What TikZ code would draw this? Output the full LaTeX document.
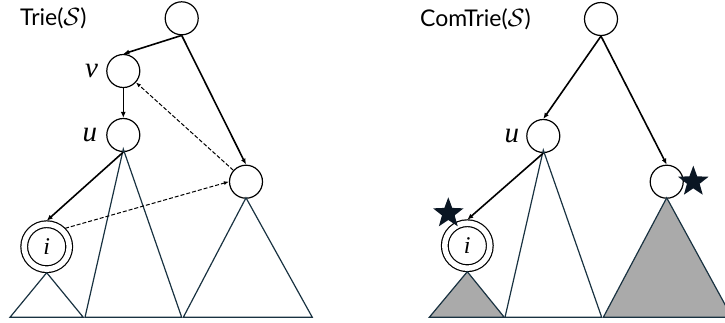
\documentclass[tikz,border=0pt]{standalone}
\usepackage{fontspec}
\setmainfont{Lato}
\newfontfamily\letterfont{Liberation Serif}
\definecolor{slate}{RGB}{25,50,65}
\definecolor{shade}{RGB}{170,170,170}
\definecolor{starc}{RGB}{10,22,35}
\usetikzlibrary{arrows.meta,positioning,shapes.geometric}
\tikzset{
  tnode/.style={draw,circle,line width=1.2pt,minimum size=33pt,inner sep=0pt},
  leaf/.style={tnode,double,double distance=5.5pt,minimum size=45pt,outer sep=3.5pt,
               font=\letterfont\itshape\fontsize{24}{24}\selectfont},
  edge/.style={-{Latex[length=6pt,width=5pt]},line width=1.6pt},
  link/.style={-{Latex[length=5pt,width=4pt]},line width=1pt,dash pattern=on 4pt off 2pt},
  sub/.style={draw=slate,line width=1.2pt},
  subfill/.style={sub,fill=shade},
  lbl/.style={font=\letterfont\itshape\fontsize{29}{29}\selectfont,inner sep=0pt},
  title/.style={font=\fontsize{23}{23}\selectfont,anchor=west,inner sep=0pt},
  starmark/.style={star,star points=5,star point ratio=2.4,fill=starc,inner sep=0pt,minimum size=32pt},
}
\begin{document}
\begin{tikzpicture}[x=1pt,y=-1pt]
  \useasboundingbox (0,0) rectangle (725,322);

  % left: Trie(S)
  \node[title] (t1) at (20,18) {Trie($\mathcal{S}$)};
  \node[tnode] (root) at (181.7,18.3) {};
  \node[tnode] (v) at (123.3,71) {};
  \node[tnode] (u) at (123.3,135) {};
  \node[tnode] (r) at (246,181.7) {};
  \node[leaf] (i) at (46.7,246.7) {i};
  \node[lbl,left=8pt of v] (vl) {v};
  \node[lbl,left=9pt of u] (ul) {u};

  \draw[sub] (i.south) -- (10,317.3) -- (83.3,317.3) -- cycle;
  \draw[sub] ([yshift=3pt]u.south) -- (85,317.3) -- (181.7,317.3) -- cycle;
  \draw[sub] ([yshift=1pt]r.south) -- (183.3,317.3) -- (312.3,317.3) -- cycle;

  \draw[edge] (root.south) -- (v.north);
  \draw[edge] (root.south) -- (r.north);
  \draw[edge] (v) -- (u);
  \draw[edge] (u.south) -- (i.north);
  \draw[link] (r) -- (v);
  \draw[link] (i.45) -- (r.west);

  % right: ComTrie(S)
  \node[title] (t2) at (420,19) {ComTrie($\mathcal{S}$)};
  \node[tnode] (root2) at (601,19) {};
  \node[tnode] (u2) at (543.3,136) {};
  \node[tnode] (r2) at (666.7,181.7) {};
  \node[leaf] (i2) at (467.3,245.7) {i};
  \node[lbl,left=7pt of u2] (ul2) {u};

  \draw[subfill] (i2.south) -- (429.3,317.3) -- (504.3,317.3) -- cycle;
  \draw[sub] ([yshift=3pt]u2.south) -- (505,317.3) -- (601.7,317.3) -- cycle;
  \draw[subfill] ([yshift=1pt]r2.south) -- (603.3,317.3) -- (732,317.3) -- cycle;

  \draw[edge] (root2.south) -- (u2.north);
  \draw[edge] (root2.south) -- (r2.north);
  \draw[edge] (u2.south) -- (i2.north);

  \node[starmark] (s1) at (448.3,213.3) {};
  \node[starmark] (s2) at (693.3,181.7) {};
\end{tikzpicture}
\end{document}
